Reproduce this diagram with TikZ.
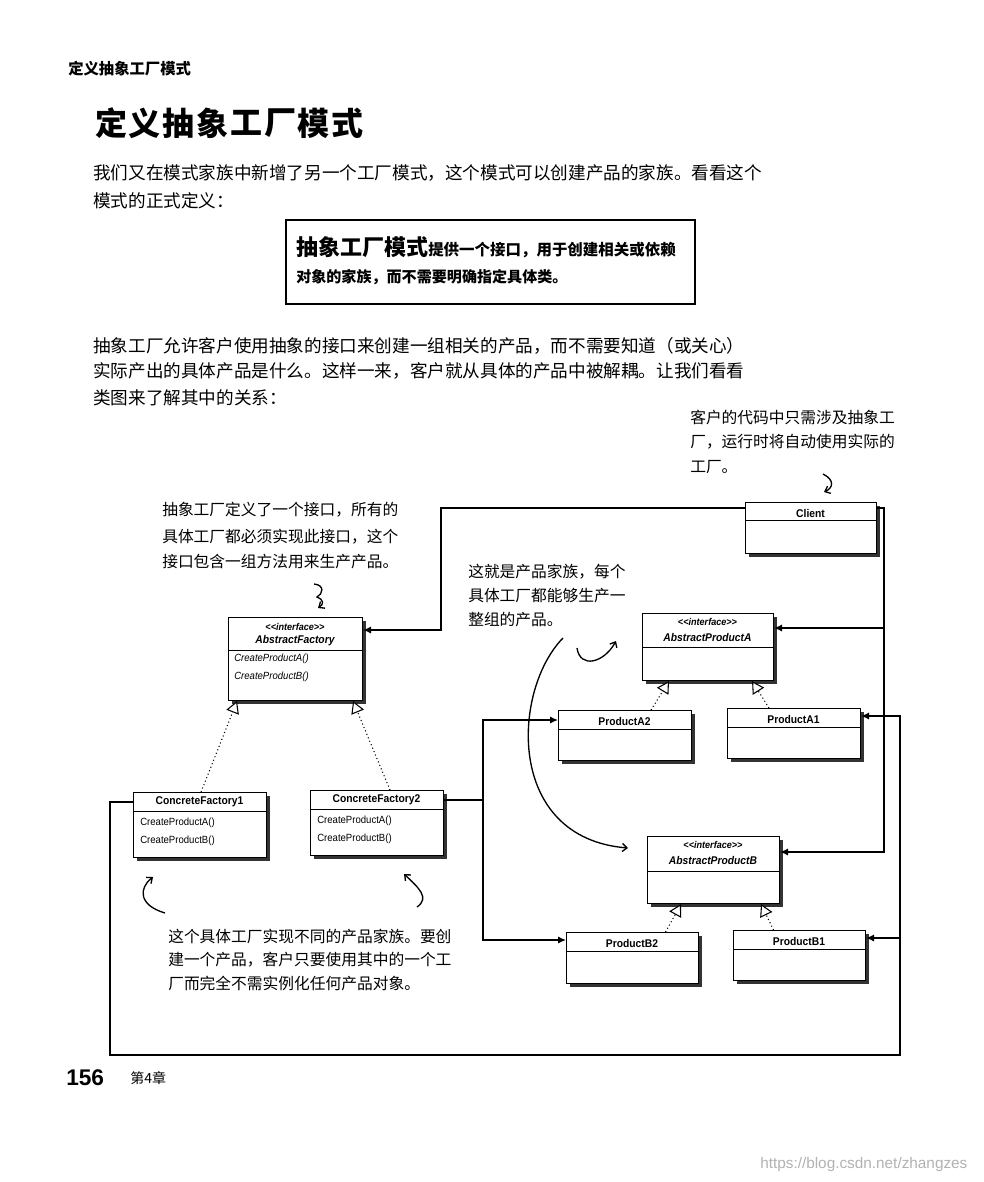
\documentclass[tikz,border=0pt]{standalone}
\usepackage{fontspec}
\setmainfont{Noto Sans CJK SC}
\newfontfamily\umlfont[FakeStretch=0.92]{Liberation Sans}
\newfontfamily\numfont{Liberation Sans}
\usetikzlibrary{positioning,arrows.meta,shadows,calc}

\begin{document}
\begin{tikzpicture}[
  x=0.75pt, y=-0.75pt,
  classbox/.style={draw, line width=0.8pt, fill=white, anchor=north west, inner sep=0pt,
    drop shadow={shadow xshift=2.6pt, shadow yshift=-2.6pt, fill=black, opacity=0.8}},
  sepline/.style={line width=0.7pt},
  umlname/.style={font=\umlfont\bfseries\fontsize{8.4}{9}\selectfont, inner sep=0pt},
  umlstereo/.style={font=\umlfont\bfseries\itshape\fontsize{7.4}{8}\selectfont, inner sep=0pt},
  umliface/.style={font=\umlfont\bfseries\itshape\fontsize{8.4}{9}\selectfont, inner sep=0pt},
  umlop/.style={font=\umlfont\fontsize{7.8}{8}\selectfont, anchor=west, inner sep=0pt},
  umlopi/.style={umlop, font=\umlfont\itshape\fontsize{7.8}{8}\selectfont},
  assoc/.style={line width=1.1pt, -{Latex[length=6pt, width=5.5pt]}},
  realize/.style={dotted, line width=0.8pt, -{Triangle[length=9pt, width=10pt, fill=white, line width=0.8pt]}},
  handarrow/.style={line width=1pt, -{Straight Barb[length=3.5pt, width=6pt]}},
  body/.style={font=\fontsize{13.2}{14}\selectfont, anchor=west, inner sep=0pt},
  hand/.style={font=\fontsize{11.8}{12}\selectfont, anchor=west, inner sep=0pt},
  titlechar/.style={font=\bfseries\fontsize{24}{26}\selectfont, inner sep=0pt},
]
  \path[use as bounding box, fill=white] (0,0) rectangle (983,1182);

  % Running head and title
  \node[font=\bfseries\fontsize{11.5}{12}\selectfont, anchor=west, inner sep=0pt] (runhead) at (68,69) {定义抽象工厂模式};
  \foreach \ch [count=\i from 0] in {定,义,抽,象,工,厂,模,式}
    \node[titlechar] (title\i) at (111+33.8*\i,123) {\ch};

  % Intro text
  \node[body] (intro1) at (93,173) {我们又在模式家族中新增了另一个工厂模式，这个模式可以创建产品的家族。看看这个};
  \node[body] (intro2) at (93,201) {模式的正式定义：};

  % Definition box
  \node[draw, line width=1.6pt, anchor=north west, minimum width=306.75pt, minimum height=63pt] (defbox) at (285,219) {};
  \node[anchor=base west, inner sep=0pt, font=\bfseries\fontsize{11.6}{12}\selectfont] (def1) at (296,255)
    {{\fontsize{16.5}{17}\selectfont 抽象工厂模式}提供一个接口，用于创建相关或依赖};
  \node[anchor=base west, inner sep=0pt, font=\bfseries\fontsize{11.3}{12}\selectfont] (def2) at (296,282) {对象的家族，而不需要明确指定具体类。};

  % Explanation text
  \node[body] (expl1) at (93,346) {抽象工厂允许客户使用抽象的接口来创建一组相关的产品，而不需要知道（或关心）};
  \node[body] (expl2) at (93,371) {实际产出的具体产品是什么。这样一来，客户就从具体的产品中被解耦。让我们看看};
  \node[body] (expl3) at (93,398) {类图来了解其中的关系：};

  % Handwritten notes
  \node[hand] (noteclient1) at (690,417) {客户的代码中只需涉及抽象工};
  \node[hand] (noteclient2) at (690,442) {厂，运行时将自动使用实际的};
  \node[hand] (noteclient3) at (690,467) {工厂。};
  \node[hand] (notefac1) at (162,510) {抽象工厂定义了一个接口，所有的};
  \node[hand] (notefac2) at (162,537) {具体工厂都必须实现此接口，这个};
  \node[hand] (notefac3) at (162,562) {接口包含一组方法用来生产产品。};
  \node[hand] (notefam1) at (468,572) {这就是产品家族，每个};
  \node[hand] (notefam2) at (468,596) {具体工厂都能够生产一};
  \node[hand] (notefam3) at (468,620) {整组的产品。};
  \node[hand] (noteconc1) at (168,937) {这个具体工厂实现不同的产品家族。要创};
  \node[hand] (noteconc2) at (168,960) {建一个产品，客户只要使用其中的一个工};
  \node[hand] (noteconc3) at (168,983) {厂而完全不需实例化任何产品对象。};

  % Hand-drawn pointers
  \draw[handarrow] (823,474) .. controls (835,480) and (833,488) .. (824,492);
  \draw[handarrow] (314,584) .. controls (325,585) and (323,594) .. (317,597) .. controls (324,600) and (324,604) .. (318,608);
  \draw[handarrow] (563,638) .. controls (512,690) and (505,838) .. (628,848);
  \draw[handarrow] (577,648) .. controls (580,669) and (604,663) .. (616,641);
  \draw[handarrow] (165,913) .. controls (138,905) and (139,888) .. (153,877);
  \draw[handarrow] (417,907) .. controls (430,898) and (419,888) .. (404,874);

  % Classes
  \node[classbox, minimum width=98.25pt, minimum height=38.25pt] (client) at (745,502) {};
  \draw[sepline] (client.west |- 0,520) -- (client.east |- 0,520);
  \node[umlname] (clientname) at (810.5,513) {Client};

  \node[classbox, minimum width=100.5pt, minimum height=62.25pt] (absfac) at (228,617) {};
  \draw[sepline] (absfac.west |- 0,650) -- (absfac.east |- 0,650);
  \node[umlstereo] (absfacst) at (295,627) {<<interface>>};
  \node[umliface] (absfacname) at (295,641) {AbstractFactory};
  \node[umlopi] (absfacopa) at (234,659) {CreateProductA()};
  \node[umlopi] (absfacopb) at (234,677) {CreateProductB()};

  \node[classbox, minimum width=99.75pt, minimum height=48.75pt] (conc1) at (133,792) {};
  \draw[sepline] (conc1.west |- 0,811) -- (conc1.east |- 0,811);
  \node[umlname] (conc1name) at (199.5,802) {ConcreteFactory1};
  \node[umlop] (conc1opa) at (140,823) {CreateProductA()};
  \node[umlop] (conc1opb) at (140,841) {CreateProductB()};

  \node[classbox, minimum width=99.75pt, minimum height=48.75pt] (conc2) at (310,790) {};
  \draw[sepline] (conc2.west |- 0,809) -- (conc2.east |- 0,809);
  \node[umlname] (conc2name) at (376.5,800) {ConcreteFactory2};
  \node[umlop] (conc2opa) at (317,821) {CreateProductA()};
  \node[umlop] (conc2opb) at (317,839) {CreateProductB()};

  \node[classbox, minimum width=98.25pt, minimum height=50.25pt] (absA) at (642,613) {};
  \draw[sepline] (absA.west |- 0,647) -- (absA.east |- 0,647);
  \node[umlstereo] (absAst) at (707.5,622) {<<interface>>};
  \node[umliface] (absAname) at (707.5,637) {AbstractProductA};

  \node[classbox, minimum width=99.75pt, minimum height=37.5pt] (prodA2) at (558,710) {};
  \draw[sepline] (prodA2.west |- 0,729) -- (prodA2.east |- 0,729);
  \node[umlname] (prodA2name) at (624.5,721) {ProductA2};

  \node[classbox, minimum width=99.75pt, minimum height=37.5pt] (prodA1) at (727,708) {};
  \draw[sepline] (prodA1.west |- 0,727) -- (prodA1.east |- 0,727);
  \node[umlname] (prodA1name) at (793.5,719) {ProductA1};

  \node[classbox, minimum width=99pt, minimum height=50.25pt] (absB) at (647,836) {};
  \draw[sepline] (absB.west |- 0,871) -- (absB.east |- 0,871);
  \node[umlstereo] (absBst) at (713,845) {<<interface>>};
  \node[umliface] (absBname) at (713,860) {AbstractProductB};

  \node[classbox, minimum width=99pt, minimum height=38.25pt] (prodB2) at (566,932) {};
  \draw[sepline] (prodB2.west |- 0,951) -- (prodB2.east |- 0,951);
  \node[umlname] (prodB2name) at (632,943) {ProductB2};

  \node[classbox, minimum width=99pt, minimum height=37.5pt] (prodB1) at (733,930) {};
  \draw[sepline] (prodB1.west |- 0,949) -- (prodB1.east |- 0,949);
  \node[umlname] (prodB1name) at (799,941) {ProductB1};

  % Realizations
  \draw[realize] ($(conc1.north)+(1,0)$) -- ($(absfac.south west)+(9,0)$);
  \draw[realize] ($(conc2.north)+(13,0)$) -- ($(absfac.south east)+(-10,0)$);
  \draw[realize] ($(prodA2.north)+(26,0)$) -- ($(absA.south west)+(27,0)$);
  \draw[realize] ($(prodA1.north)+(-25,0)$) -- ($(absA.south east)+(-22,0)$);
  \draw[realize] ($(prodB2.north)+(33,0)$) -- ($(absB.south west)+(34,0)$);
  \draw[realize] ($(prodB1.north)+(-26,0)$) -- ($(absB.south east)+(-19,0)$);

  % Associations
  \draw[assoc] (client.west |- 0,508) -| (441,630) -- (absfac.east |- 0,630);
  \draw[assoc] (client.east |- 0,508) -| (884,628) -- (absA.east |- 0,628);
  \draw[assoc] (client.east |- 0,508) -| (884,852) -- (absB.east |- 0,852);
  \draw[assoc] (conc2.east |- 0,800) -| (483,720) -- (prodA2.west |- 0,720);
  \draw[assoc] (conc2.east |- 0,800) -| (483,940) -- (prodB2.west |- 0,940);
  \draw[assoc] (conc1.west |- 0,802) -| (110,1055) -| (900,716) -- (prodA1.east |- 0,716);
  \draw[assoc] (conc1.west |- 0,802) -| (110,1055) -| (900,938) -- (prodB1.east |- 0,938);

  % Footer
  \node[font=\numfont\bfseries\fontsize{17}{18}\selectfont, anchor=west, inner sep=0pt] (pagenum) at (66,1078) {156};
  \node[font=\fontsize{10.5}{11}\selectfont, anchor=west, inner sep=0pt] (chapter) at (130,1078) {第4章};
  \node[font=\numfont\fontsize{11.5}{12}\selectfont, text=black!30, anchor=west, inner sep=0pt] (watermark) at (760,1165) {https://blog.csdn.net/zhangzes};
\end{tikzpicture}
\end{document}
